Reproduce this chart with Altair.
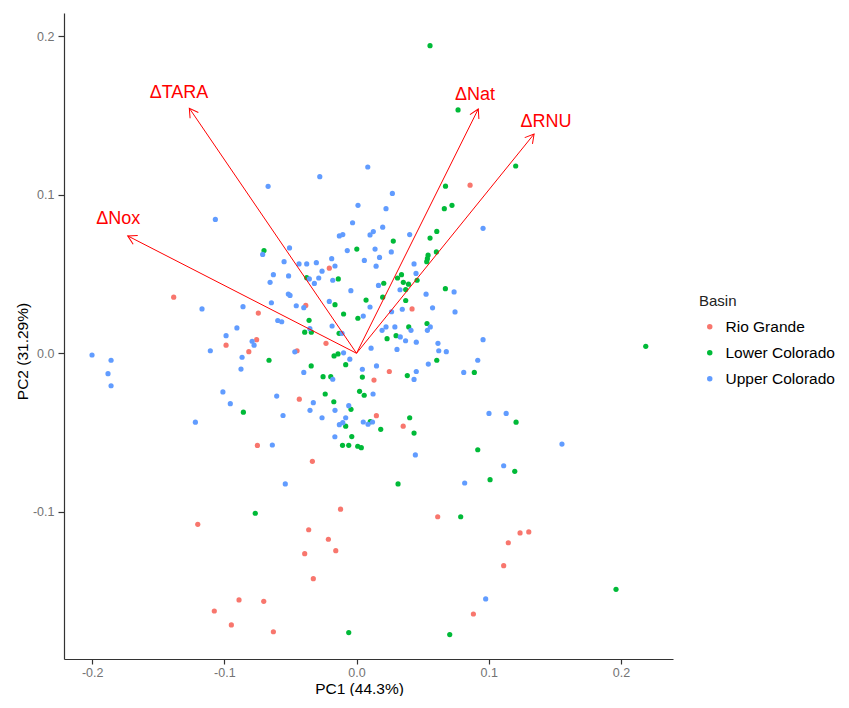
import math
import altair as alt
import pandas as pd

FONT = "Liberation Sans"
basins = ["Rio Grande", "Lower Colorado", "Upper Colorado"]
colors = ["#F8766D", "#00BA38", "#619CFF"]

rio_pc1 = [-0.0206, -0.1383, -0.0384, -0.0743, -0.0756, -0.0987, -0.0815, -0.0450, -0.0231, -0.0433,
           -0.0750, -0.0334, -0.1201, -0.0121, -0.0362, -0.0213, -0.0157, -0.0392, -0.0327, -0.0889,
           -0.0702, -0.1076, -0.0947, -0.0629, 0.0859, 0.0420, 0.0248, 0.0132, 0.0150, 0.0353,
           0.0614, 0.1237, 0.1303, 0.1148, 0.1113, 0.0884]
rio_pc2 = [0.0537, 0.0354, 0.0302, 0.0254, 0.0086, 0.0051, 0.0010, 0.0016, 0.0063, -0.0290,
           -0.0582, -0.0682, -0.1080, -0.0984, -0.1114, -0.1174, -0.1246, -0.1265, -0.1423, -0.1557,
           -0.1566, -0.1627, -0.1715, -0.1758, 0.1061, 0.0280, -0.0115, -0.0169, -0.0394, -0.0460,
           -0.1032, -0.1134, -0.1128, -0.1196, -0.1341, -0.1646]

lower_pc1 = [0.0556, 0.0768, 0.1204, 0.0673, 0.0664, 0.0722, 0.0607, 0.0556, 0.0278, 0.0002,
             -0.0700, 0.0604, 0.0541, 0.0536, 0.0531, 0.0340, 0.0310, 0.0354, 0.0393, 0.0458,
             0.0206, 0.0372, 0.0672, -0.0377, -0.0138, 0.0198, 0.0072, 0.0372, -0.0163, -0.0098,
             0.0010, -0.0359, -0.0392, -0.0342, -0.0132, 0.0533, 0.0395, 0.0231, 0.0299, -0.0662,
             -0.0170, -0.0140, -0.0082, -0.0343, -0.0253, -0.0195, 0.0607, 0.0044, 0.0384, 0.0891,
             -0.0237, 0.0023, 0.0058, -0.0172, -0.0042, -0.0856, -0.0082, 0.0104, 0.0402, 0.0183,
             0.0435, -0.0036, -0.0106, -0.0059, 0.0009, 0.0036, 0.1207, 0.0917, 0.1197, 0.1010,
             0.0314, -0.0766, 0.0788, 0.1963, -0.0059, 0.0705, 0.2188]
lower_pc2 = [0.1942, 0.1536, 0.1182, 0.1055, 0.0913, 0.0934, 0.0769, 0.0727, 0.0708, 0.0658,
             0.0648, 0.0640, 0.0619, 0.0597, 0.0578, 0.0496, 0.0475, 0.0448, 0.0436, 0.0461,
             0.0442, 0.0402, 0.0408, 0.0477, 0.0469, 0.0354, 0.0336, 0.0333, 0.0307, 0.0248,
             0.0221, 0.0208, 0.0133, 0.0133, 0.0126, 0.0188, 0.0166, 0.0092, 0.0111, -0.0044,
             -0.0017, -0.0004, -0.0072, -0.0080, -0.0148, -0.0148, -0.0044, -0.0150, -0.0141, -0.0121,
             -0.0257, -0.0240, -0.0265, -0.0306, -0.0354, -0.0372, -0.0460, -0.0432, -0.0407, -0.0480,
             -0.0504, -0.0526, -0.0581, -0.0581, -0.0587, -0.0596, -0.0435, -0.0609, -0.0745, -0.0798,
             -0.0825, -0.1010, -0.1032, -0.1490, -0.1763, -0.1776, 0.0044]

upper_pc1 = [-0.0278, -0.0669, 0.0011, -0.1068, -0.0030, -0.0130, -0.0104, -0.0507, -0.0070, -0.0710,
             -0.0548, -0.0435, -0.0377, -0.0304, -0.0188, -0.0163, -0.0261, -0.0629, -0.0514, -0.0357,
             -0.0286, -0.0180, -0.0654, -0.0319, -0.0043, -0.0516, -0.0503, -0.1169, -0.0859, -0.0644,
             -0.0456, -0.0399, -0.0206, -0.0596, -0.0566, -0.0905, -0.0353, -0.0185, -0.0110, -0.0987,
             -0.0790, -0.0775, -0.1106, -0.0467, -0.0098, -0.0866, -0.0051, -0.0874, -0.0399, -0.0180,
             -0.2001, -0.1857, -0.1880, -0.1857, -0.1011, -0.0955, -0.0604, -0.0327, -0.0059, -0.0352,
             -0.0163, -0.1219, -0.0556, -0.0261, -0.0082, -0.0104, -0.0130, -0.0164, -0.0637, -0.0539,
             0.0085, 0.0271, 0.0223, 0.0198, 0.0102, 0.0127, 0.0957, 0.0402, 0.0140, 0.0263,
             0.0174, 0.0059, 0.0148, 0.0435, 0.0450, 0.0166, 0.0329, 0.0526, 0.0738, 0.0102,
             0.0265, 0.0346, 0.0575, 0.0745, 0.0051, 0.0193, 0.0223, 0.0290, 0.0412, 0.0558,
             0.0536, 0.0957, 0.0331, 0.0371, 0.0452, 0.0110, 0.0306, 0.0616, 0.0622, 0.0679,
             0.0917, 0.0543, 0.0151, 0.0044, 0.0452, 0.0435, 0.0811, 0.0125, 0.0051, 0.0087,
             0.0121, 0.1002, 0.1132, 0.0445, 0.1554, 0.1113, 0.0818, 0.0977]
upper_pc2 = [0.1115, 0.1054, 0.0934, 0.0845, 0.0824, 0.0741, 0.0749, 0.0665, 0.0648, 0.0624,
             0.0578, 0.0564, 0.0564, 0.0572, 0.0597, 0.0551, 0.0518, 0.0496, 0.0488, 0.0469,
             0.0475, 0.0461, 0.0448, 0.0441, 0.0395, 0.0374, 0.0365, 0.0280, 0.0294, 0.0319,
             0.0300, 0.0288, 0.0327, 0.0207, 0.0199, 0.0160, 0.0155, 0.0172, 0.0126, 0.0111,
             0.0076, 0.0051, 0.0016, 0.0009, 0.0003, -0.0025, -0.0037, -0.0100, -0.0121, -0.0164,
             -0.0011, -0.0044, -0.0129, -0.0205, -0.0244, -0.0318, -0.0270, -0.0312, -0.0331, -0.0360,
             -0.0360, -0.0435, -0.0393, -0.0407, -0.0407, -0.0438, -0.0451, -0.0527, -0.0579, -0.0825,
             0.1176, 0.1009, 0.0913, 0.0796, 0.0747, 0.0768, 0.0789, 0.0749, 0.0658, 0.0640,
             0.0605, 0.0586, 0.0550, 0.0564, 0.0504, 0.0428, 0.0401, 0.0373, 0.0387, 0.0292,
             0.0262, 0.0278, 0.0287, 0.0261, 0.0235, 0.0145, 0.0166, 0.0166, 0.0145, 0.0166,
             0.0145, 0.0086, 0.0103, 0.0079, 0.0070, 0.0032, 0.0024, 0.0063, 0.0016, 0.0010,
             -0.0044, -0.0068, -0.0080, -0.0101, -0.0115, -0.0165, -0.0121, -0.0257, -0.0434, -0.0448,
             -0.0434, -0.0380, -0.0380, -0.0642, -0.0573, -0.0710, -0.0819, -0.1551]

arrow_vars = ["ΔTARA", "ΔNox", "ΔNat", "ΔRNU"]
arrow_pc1 = [-0.1265, -0.1731, 0.0921, 0.1343]
arrow_pc2 = [0.1547, 0.0741, 0.1542, 0.1384]
label_pc1 = [-0.1343, -0.1802, 0.0896, 0.1433]
label_pc2 = [0.1641, 0.0846, 0.1631, 0.1462]

x_ticks = [-0.2, -0.1, 0.0, 0.1, 0.2]
y_ticks = [-0.1, 0.0, 0.1, 0.2]
x_domain = [-0.2213, 0.2394]
y_domain = [-0.1930, 0.2148]
W, H = 609, 646

rows = []
for b, xs, ys in [(basins[0], rio_pc1, rio_pc2), (basins[1], lower_pc1, lower_pc2),
                  (basins[2], upper_pc1, upper_pc2)]:
    assert len(xs) == len(ys)
    for a, c in zip(xs, ys):
        rows.append({"PC1": a, "PC2": c, "Basin": b})
pts = pd.DataFrame(rows)

kx = W / (x_domain[1] - x_domain[0])
ky = H / (y_domain[1] - y_domain[0])
arr = pd.DataFrame({
    "var": arrow_vars, "x0": [0.0] * 4, "y0": [0.0] * 4,
    "x": arrow_pc1, "y": arrow_pc2, "lx": label_pc1, "ly": label_pc2,
})
arr["angle"] = [(math.degrees(math.atan2(a * kx, b * ky)) + 360) % 360
                for a, b in zip(arrow_pc1, arrow_pc2)]

xs = alt.Scale(domain=x_domain, nice=False, zero=False)
ys = alt.Scale(domain=y_domain, nice=False, zero=False)
lab = "datum.value < 0 ? '-' + format(-datum.value, '.1f') : format(datum.value, '.1f')"

xaxis = alt.Axis(values=x_ticks, labelExpr=lab, title="PC1 (44.3%)", grid=False,
                 tickSize=5, labelPadding=2, titleX=295, titleY=34,
                 titleBaseline="alphabetic")
yaxis = alt.Axis(values=y_ticks, labelExpr=lab, title="PC2 (31.29%)", grid=False,
                 tickSize=6, labelPadding=4, titleX=-34, titleY=338)

points = alt.Chart(pts).mark_circle(size=27, opacity=1).encode(
    x=alt.X("PC1:Q", scale=xs, axis=xaxis),
    y=alt.Y("PC2:Q", scale=ys, axis=yaxis),
    color=alt.Color("Basin:N",
                    scale=alt.Scale(domain=basins, range=colors),
                    legend=alt.Legend(orient="none", legendX=635, legendY=281,
                                      title="Basin", symbolType="circle", symbolSize=30,
                                      rowPadding=9, labelOffset=8, symbolOffset=3,
                                      titlePadding=10)),
)

lines = alt.Chart(arr).mark_rule(color="#FF0000", strokeWidth=1).encode(
    x=alt.X("x0:Q", scale=xs), y=alt.Y("y0:Q", scale=ys),
    x2="x:Q", y2="y:Q",
)

heads = alt.Chart(arr).mark_point(
    shape="M-0.5,0.87L0,0L0.5,0.87", filled=False, color="#FF0000",
    strokeWidth=1, size=400, opacity=1,
).encode(
    x=alt.X("x:Q", scale=xs), y=alt.Y("y:Q", scale=ys),
    angle=alt.Angle("angle:Q", scale=None),
)

labels = alt.Chart(arr).mark_text(color="#FF0000", fontSize=18, font=FONT).encode(
    x=alt.X("lx:Q", scale=xs), y=alt.Y("ly:Q", scale=ys), text="var:N",
)

chart = alt.layer(points, lines, heads, labels).properties(
    width=W, height=H,
    autosize=alt.AutoSizeParams(type="none"),
    padding={"left": 56, "top": 5, "right": 168, "bottom": 37},
).configure_view(stroke=None).configure_axis(
    labelFont=FONT, titleFont=FONT, labelFontSize=12.5, titleFontSize=15.5,
    labelColor="#737373", titleColor="#000000", titleFontWeight="normal",
    domainColor="#333333", tickColor="#333333", domainWidth=1.2, tickWidth=1.2,
).configure_legend(
    labelFont=FONT, titleFont=FONT, labelFontSize=15.5, titleFontSize=15,
    titleFontWeight="normal", titleColor="#222222", labelColor="#000000",
)

chart.save("out.html", embed_options={"renderer": "svg", "actions": False})
